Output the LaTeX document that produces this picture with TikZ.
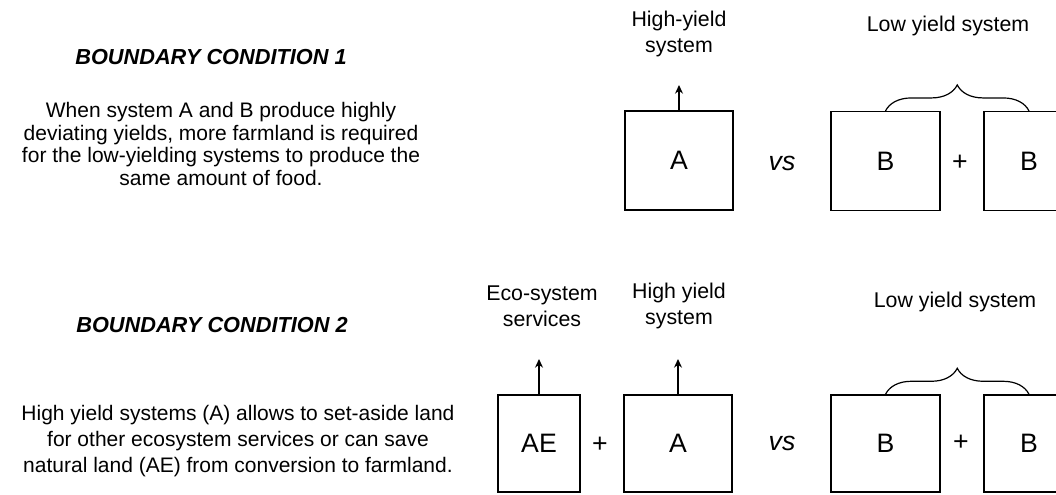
\documentclass[tikz,border=0pt]{standalone}
\usepackage{fontspec}
\setmainfont{Liberation Sans}
\usetikzlibrary{arrows.meta, decorations.pathreplacing}
\tikzset{
	x=0.75pt, y=-0.75pt, % one unit is one pixel of the layout, y runs downwards
	>={Stealth[length=6.5pt,width=6pt]}, % small filled arrow heads
	sysbox/.style={draw, line width=1.1pt, inner sep=0pt, minimum height=74pt, font=\fontsize{20}{24}\selectfont}, % the land boxes
	sign/.style={font=\fontsize{20}{24}\selectfont}, % the + and vs between boxes
	caption/.style={align=center, font=\fontsize{16}{19.5}\selectfont}, % labels over the boxes
	heading/.style={font=\fontsize{16.3}{19}\selectfont\bfseries\itshape}, % boundary condition titles
	explain/.style={align=center, font=\fontsize{15.75}{16.9}\selectfont}, % the text on the left
	lift/.style={->, line width=0.9pt}, % arrows out of the boxes
	group/.style={decorate, decoration={brace, amplitude=19.5pt}, line width=0.9pt}, % brace over the B boxes
}

\begin{document}
\begin{tikzpicture}
	\useasboundingbox (0,0) rectangle (1056,494);
	\clip (0,0) rectangle (1056,494);

	% boundary condition 1
	\node[heading] (bc1) at (211,57) {BOUNDARY CONDITION 1};
	\node[explain] (txt1) at (221,144) {When system A and B produce highly\\deviating yields, more farmland is required\\for the low-yielding systems to produce the\\same amount of food.};

	\node[sysbox, minimum width=81pt] (boxA) at (679,160.5) {A};
	\node[sign] (vs1) at (782,163) {\itshape vs};
	\node[sysbox, minimum width=81.75pt] (boxB) at (885.5,161) {B};
	\node[sign] (plus1) at (960,163) {+};
	\node[sysbox, minimum width=67.5pt] (boxBB) at (1029,161) {B};

	\coordinate (tipA) at (679,85);
	\draw[lift] (boxA.north) -- (tipA);
	\node[caption] (highA) at (679,34) {High-yield\\system};
	\draw[group] (boxB.north) -- (boxBB.north);
	\node[caption] (lowB) at (948,26) {Low yield system};

	% boundary condition 2
	\node[heading] (bc2) at (212,325) {BOUNDARY CONDITION 2};
	\node[explain, font=\fontsize{15.75}{19.5}\selectfont] (txt2) at (238,441) {High yield systems (A) allows to set-aside land\\for other ecosystem services or can save\\natural land (AE) from conversion to farmland.};

	\node[sysbox, minimum width=61.5pt, minimum height=72.75pt] (boxAE) at (539,443.5) {AE};
	\node[sign] (plus2) at (600,445) {+};
	\node[sysbox, minimum width=81pt, minimum height=72.75pt] (boxA2) at (678,443.5) {A};
	\node[sign] (vs2) at (782,443) {\itshape vs};
	\node[sysbox, minimum width=81.75pt, minimum height=72.75pt] (boxB2) at (885.5,443.5) {B};
	\node[sign] (plus3) at (961,443) {+};
	\node[sysbox, minimum width=67.5pt, minimum height=72.75pt] (boxBB2) at (1029,443.5) {B};

	\coordinate (tipAE) at (539,359);
	\coordinate (tipA2) at (678,359);
	\draw[lift] (boxAE.north) -- (tipAE);
	\draw[lift] (boxA2.north) -- (tipA2);
	\node[caption] (eco) at (542,306) {Eco-system\\services};
	\node[caption] (highA2) at (679,306) {High yield\\system};
	\draw[group] (boxB2.north) -- (boxBB2.north);
	\node[caption] (lowB2) at (955,302) {Low yield system};
\end{tikzpicture}
\end{document}
